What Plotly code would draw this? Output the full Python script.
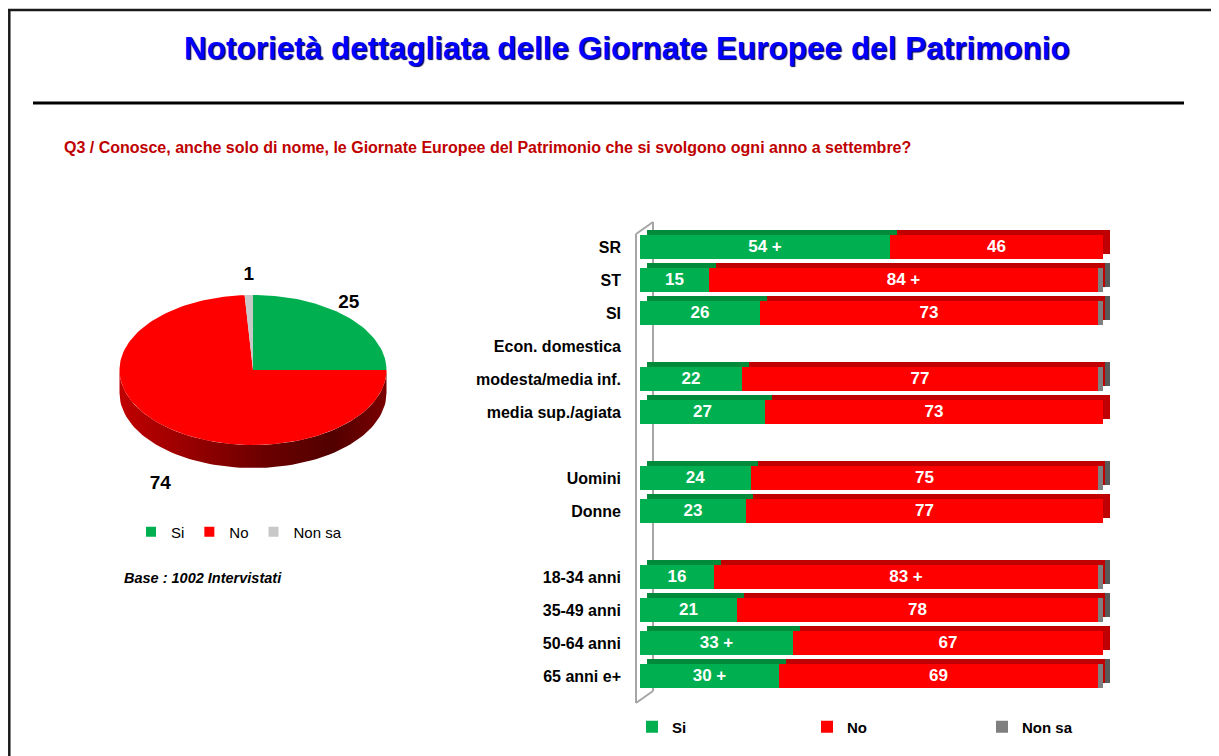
import numpy as np
import plotly.graph_objects as go

# ---------------- data ----------------
title_text = "Notorietà dettagliata delle Giornate Europee del Patrimonio"
question_text = "Q3 / Conosce, anche solo di nome, le Giornate Europee del Patrimonio che si svolgono ogni anno a settembre?"
base_text = "Base : 1002 Intervistati"

series_names = ["Si", "No", "Non sa"]

pie_values = [25, 74, 1]

row_labels = ["SR", "ST", "SI", "Econ. domestica", "modesta/media inf.", "media sup./agiata", "",
              "Uomini", "Donne", "", "18-34 anni", "35-49 anni", "50-64 anni", "65 anni e+"]
si_values = [54, 15, 26, None, 22, 27, None, 24, 23, None, 16, 21, 33, 30]
no_values = [46, 84, 73, None, 77, 73, None, 75, 77, None, 83, 78, 67, 69]
nonsa_values = [0, 1, 1, None, 1, 0, None, 1, 0, None, 1, 1, 0, 1]
si_text = ["54 +", "15", "26", "", "22", "27", "", "24", "23", "", "16", "21", "33 +", "30 +"]
no_text = ["46", "84 +", "73", "", "77", "73", "", "75", "77", "", "83 +", "78", "67", "69"]

# ---------------- style ----------------
W, H = 1219, 756
OFF = 8  # page body margin
GREEN, GREEN_D = "#00B050", "#008A3A"
RED, RED_D = "#FF0000", "#C00000"
GRAY_BAR, GRAY_BAR_D = "#7F7F7F", "#595959"
GRAY_PIE = "#C8C8C8"
FONT = "Liberation Sans, Arial, sans-serif"


def px(x):
    return (x - OFF) / W


def py(y):
    return 1 - (y - OFF) / H


fig = go.Figure()

# ---------------- bars ----------------
PX_PER_UNIT = 4.63
X0_PIX = 640
ROW0_PIX, ROW_STEP = 247, 33
bar_w = 24 / ROW_STEP
depth_y = 5 / ROW_STEP
depth_x = 7 / PX_PER_UNIT

rows = list(range(len(row_labels)))
series_vals = [si_values, no_values, nonsa_values]
series_text = [si_text, no_text, [""] * len(rows)]
front_cols = [GREEN, RED, GRAY_BAR]
back_cols = [GREEN_D, RED_D, GRAY_BAR_D]

bases = []
cum = [0 if v is not None else None for v in si_values]
for vals in series_vals:
    bases.append(list(cum))
    cum = [(c + v) if v is not None else None for c, v in zip(cum, vals)]

# back (3D top / side faces)
for vals, base, col in zip(series_vals, bases, back_cols):
    fig.add_trace(go.Bar(
        y=rows, x=vals,
        base=[(b + depth_x) if b is not None else None for b in base],
        orientation="h", width=bar_w, offset=-bar_w / 2 - depth_y,
        marker=dict(color=col, line=dict(width=0)),
        showlegend=False, hoverinfo="skip", xaxis="x", yaxis="y",
    ))

# front faces
for name, vals, base, col, txt in zip(series_names, series_vals, bases, front_cols, series_text):
    fig.add_trace(go.Bar(
        y=rows, x=vals, base=base, name=name,
        orientation="h", width=bar_w, offset=-bar_w / 2,
        marker=dict(color=col, line=dict(width=0)),
        text=txt, textposition="inside", insidetextanchor="middle",
        textangle=0, constraintext="none",
        textfont=dict(color="white", size=17, family=FONT, weight="bold"),
        legend="legend", xaxis="x", yaxis="y",
    ))

# ---------------- pie (tilted, drawn on its own pixel-like axes) ----------------
cx, cy, rx, ry, depth = 253, 370, 133.5, 75, 23
pie_top_cols = [GREEN, RED, GRAY_PIE]

fr = np.array(pie_values, dtype=float) / sum(pie_values)
ends = np.cumsum(fr)
starts = ends - fr


def ell(theta, dy=0.0):
    return cx + rx * np.sin(theta), cy - ry * np.cos(theta) + dy


# side walls (front half visible only)
for s, e in zip(starts, ends):
    a, b = max(2 * np.pi * s, np.pi / 2), min(2 * np.pi * e, 3 * np.pi / 2)
    if b <= a:
        continue
    t = np.linspace(a, b, 80)
    x1, y1 = ell(t)
    x2, y2 = ell(t[::-1], depth)
    fig.add_trace(go.Scatter(
        x=np.concatenate([x1, x2, x1[:1]]), y=np.concatenate([y1, y2, y1[:1]]),
        mode="lines", line=dict(width=0), fill="toself",
        fillgradient=dict(type="horizontal",
                          colorscale=[[0, "#C00000"], [0.55, "#6A0000"], [0.8, "#520000"], [1, "#7A0000"]]),
        showlegend=False, hoverinfo="skip", xaxis="x2", yaxis="y2",
    ))

# top faces
for name, s, e, col in zip(series_names, starts, ends, pie_top_cols):
    t = np.linspace(2 * np.pi * s, 2 * np.pi * e, max(int(200 * (e - s)), 4))
    xa, ya = ell(t)
    fig.add_trace(go.Scatter(
        x=np.concatenate([[cx], xa, [cx]]), y=np.concatenate([[cy], ya, [cy]]),
        mode="lines", line=dict(width=0), fill="toself", fillcolor=col,
        name=name, showlegend=False, hoverinfo="skip", xaxis="x2", yaxis="y2",
    ))

# legend entries for the pie (square swatches)
for name, col in zip(series_names, pie_top_cols):
    fig.add_trace(go.Scatter(
        x=[None], y=[None], mode="markers", name=name,
        marker=dict(symbol="square", size=10, color=col),
        legend="legend2", hoverinfo="skip", xaxis="x2", yaxis="y2",
    ))

# pie value labels
mid = 2 * np.pi * (starts + ends) / 2
lx, ly = 2, 20
lab_x = cx + (rx + lx) * np.sin(mid)
lab_y = cy - (ry + ly) * np.cos(mid) + np.where(np.cos(mid) < 0, depth + 22, 0)
fig.add_trace(go.Scatter(
    x=lab_x, y=lab_y, mode="text", text=[str(v) for v in pie_values],
    textfont=dict(size=19, color="black", family=FONT, weight="bold"),
    showlegend=False, hoverinfo="skip", xaxis="x2", yaxis="y2",
))

# ---------------- layout ----------------
x_lo = -(X0_PIX - 636) / PX_PER_UNIT
x_hi = 103
dom_x0 = 636
dom_x1 = X0_PIX + x_hi * PX_PER_UNIT
y_top_r, y_bot_r = -0.8, 13.75
dom_top = ROW0_PIX + y_top_r * ROW_STEP
dom_bot = ROW0_PIX + y_bot_r * ROW_STEP

pie_dom_x = [0.0, 0.45]
pie_dom_y = [0.15, 0.75]

wall = dict(color="#A6A6A6", width=2)
shapes = [
    # frame
    dict(type="line", xref="paper", yref="paper", x0=0, x1=1, y0=py(10), y1=py(10),
         line=dict(color="#1A1A1A", width=2.5)),
    dict(type="line", xref="paper", yref="paper", x0=px(9.3), x1=px(9.3), y0=py(9), y1=0,
         line=dict(color="#1A1A1A", width=2.5)),
    # rule under title
    dict(type="line", xref="paper", yref="paper", x0=px(33), x1=px(1184), y0=py(103), y1=py(103),
         line=dict(color="black", width=3)),
    # 3D axis wall
    dict(type="line", xref="paper", yref="paper", x0=px(636), x1=px(636), y0=py(234), y1=py(703),
         line=wall, layer="below"),
    dict(type="line", xref="paper", yref="paper", x0=px(653), x1=px(653), y0=py(222), y1=py(691),
         line=wall, layer="below"),
    dict(type="line", xref="paper", yref="paper", x0=px(636), x1=px(653), y0=py(234), y1=py(222),
         line=wall, layer="below"),
    dict(type="line", xref="paper", yref="paper", x0=px(636), x1=px(653), y0=py(703), y1=py(691),
         line=wall, layer="below"),
]

annotations = [
    dict(text=title_text, xref="paper", yref="paper", x=px(627), y=py(48),
         xanchor="center", yanchor="middle", showarrow=False,
         font=dict(family=FONT, size=31.5, color="#0000FF", weight="bold",
                   shadow="1px 1px 1px #000050")),
    dict(text=question_text, xref="paper", yref="paper", x=px(62), y=py(148),
         xanchor="left", yanchor="middle", showarrow=False,
         font=dict(family=FONT, size=16, color="#C00000", weight="bold")),
    dict(text=base_text, xref="paper", yref="paper", x=px(122), y=py(578),
         xanchor="left", yanchor="middle", showarrow=False,
         font=dict(family=FONT, size=14.5, color="black", weight="bold", style="italic")),
]

fig.update_layout(
    width=W, height=H,
    margin=dict(l=0, r=0, t=0, b=0, autoexpand=False),
    paper_bgcolor="white", plot_bgcolor="rgba(0,0,0,0)",
    barmode="overlay", bargap=0,
    xaxis=dict(domain=[px(dom_x0), px(dom_x1)], range=[x_lo, x_hi], visible=False,
               anchor="y", fixedrange=True),
    yaxis=dict(domain=[py(dom_bot), py(dom_top)], range=[y_bot_r, y_top_r], anchor="x",
               tickvals=rows, ticktext=row_labels, showgrid=False, zeroline=False, showline=False,
               ticks="", ticklabelstandoff=14, automargin=False,
               tickfont=dict(family=FONT, size=16, color="black", weight="bold")),
    xaxis2=dict(domain=pie_dom_x, range=[OFF + pie_dom_x[0] * W, OFF + pie_dom_x[1] * W],
                visible=False, anchor="y2"),
    yaxis2=dict(domain=pie_dom_y, range=[OFF + (1 - pie_dom_y[0]) * H, OFF + (1 - pie_dom_y[1]) * H],
                visible=False, anchor="x2"),
    legend=dict(orientation="h", x=px(632), y=py(727), xanchor="left", yanchor="middle",
                entrywidth=130, entrywidthmode="pixels", itemwidth=30,
                font=dict(family=FONT, size=15, color="black", weight="bold"),
                bgcolor="rgba(0,0,0,0)", traceorder="normal"),
    legend2=dict(orientation="h", x=px(131), y=py(532), xanchor="left", yanchor="middle",
                 itemwidth=30,
                 font=dict(family=FONT, size=15, color="black"),
                 bgcolor="rgba(0,0,0,0)", traceorder="normal"),
    shapes=shapes,
    annotations=annotations,
    showlegend=True,
)

fig.write_html("out.html")
